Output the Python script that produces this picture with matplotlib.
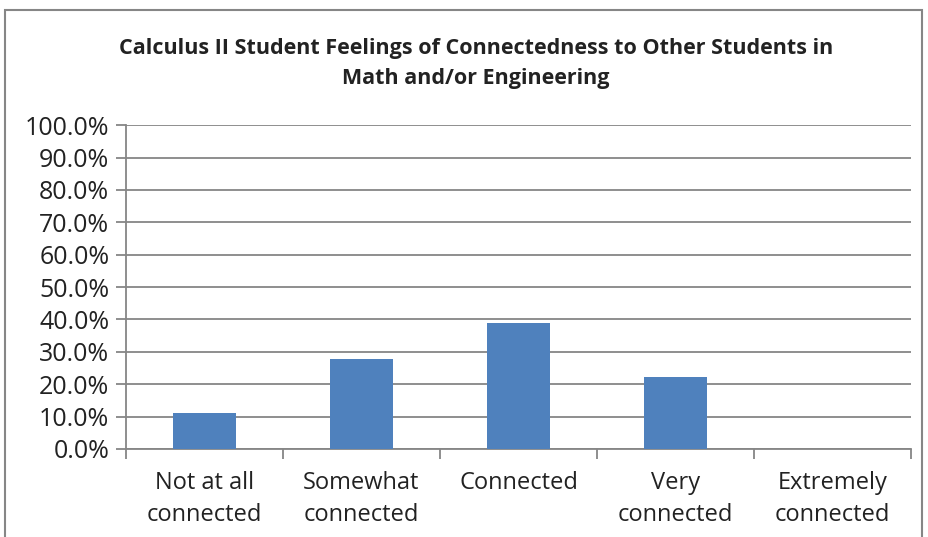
import matplotlib.pyplot as plt
import matplotlib.patches as mpatches
import numpy as np
from matplotlib.ticker import PercentFormatter

categories = ["Not at all\nconnected", "Somewhat\nconnected", "Connected",
              "Very\nconnected", "Extremely\nconnected"]
percent = [11.1, 27.8, 38.9, 22.2, 0.0]
y_ticks = [0, 10, 20, 30, 40, 50, 60, 70, 80, 90, 100]

plt.rcParams['font.family'] = ['Open Sans', 'DejaVu Sans']
grey = "#868686"

fig = plt.figure(figsize=(9.29, 5.37), dpi=100)
ax = fig.add_axes([0.1356, 0.1639, 0.845, 0.603])

# outer chart frame
fig.patches.append(mpatches.Rectangle((5 / 929, -0.05), 917 / 929, 1.05 - 10 / 537,
                                      transform=fig.transFigure, fill=False,
                                      edgecolor=grey, linewidth=1.5))

x = np.arange(len(categories))
ax.bar(x, percent, width=0.4, color="#4F81BD", zorder=3)

ax.set_xlim(-0.5, len(categories) - 0.5)
ax.set_ylim(0, 100)
ax.set_yticks(y_ticks)
ax.yaxis.set_major_formatter(PercentFormatter(decimals=1))
ax.yaxis.grid(True, color=grey, linewidth=1.3)
ax.set_axisbelow(True)

ax.set_xticks(x)
ax.set_xticklabels(categories, fontsize=17, color="#222222", linespacing=1.42)
ax.set_xticks(np.arange(len(categories) + 1) - 0.5, minor=True)
ax.tick_params(axis="x", which="major", length=0, pad=16)
ax.tick_params(axis="x", which="minor", length=7, width=1.3, color=grey, direction="out")
ax.tick_params(axis="y", length=7, width=1.3, color=grey, labelsize=18,
               labelcolor="#222222", pad=5)

for side in ["top", "right"]:
    ax.spines[side].set_visible(False)
for side in ["left", "bottom"]:
    ax.spines[side].set_color(grey)
    ax.spines[side].set_linewidth(1.3)

fig.text(0.5124, 0.882, "Calculus II Student Feelings of Connectedness to Other Students in\nMath and/or Engineering",
         ha="center", va="center", fontsize=15.5, fontweight="bold", color="#222222",
         linespacing=1.55)

fig.savefig("out.png", dpi=100)
